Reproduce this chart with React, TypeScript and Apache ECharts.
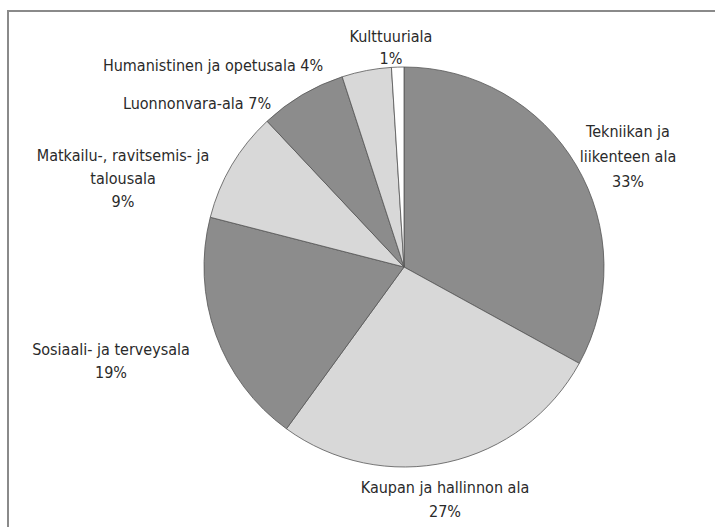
import React, { useEffect, useRef } from "react";
import * as echarts from "echarts";

const categories = [
  "Tekniikan ja\nliikenteen ala",
  "Kaupan ja hallinnon ala",
  "Sosiaali- ja terveysala",
  "Matkailu-, ravitsemis- ja\ntalousala",
  "Luonnonvara-ala",
  "Humanistinen ja opetusala",
  "Kulttuuriala",
];
const values = [33, 27, 19, 9, 7, 4, 1];
const inlineLabel = [false, false, false, false, true, true, false];

const sliceColors = ["#8c8c8c", "#d8d8d8", "#8c8c8c", "#d8d8d8", "#8c8c8c", "#d8d8d8", "#ffffff"];
// label block centres (px), alignment and line height
const labelPos: [number, number, string, number][] = [
  [628, 156, "center", 25],
  [445, 499, "center", 24],
  [111, 361, "center", 23],
  [123, 178, "center", 23],
  [197, 103, "center", 22],
  [213, 65, "center", 22],
  [391, 47, "center", 22],
];

const FONT = "'Liberation Sans Narrow', 'DejaVu Sans Condensed', 'Arial Narrow', sans-serif";

export default function App() {
  const ref = useRef<HTMLDivElement>(null);
  useEffect(() => {
    if (!ref.current) return;
    const chart = echarts.init(ref.current, undefined, { renderer: "svg" });
    chart.setOption({
      animation: false,
      backgroundColor: "#ffffff",
      graphic: [
        {
          type: "rect",
          shape: { x: 8, y: 11, width: 760, height: 560 },
          style: { fill: "none", stroke: "#8a8a8a", lineWidth: 2 },
          silent: true,
        },
      ],
      series: [
        {
          type: "pie",
          center: [404, 267],
          radius: 200,
          startAngle: 90,
          clockwise: true,
          avoidLabelOverlap: false,
          itemStyle: { borderColor: "#555", borderWidth: 0.8 },
          label: {
            show: true,
            position: "outside",
            fontFamily: FONT,
            fontSize: 16,
            color: "#2a2a2a",
            formatter: (p: any) =>
              inlineLabel[p.dataIndex] ? `${p.name} ${p.value}%` : `${p.name}\n${p.value}%`,
          },
          labelLine: { show: false },
          labelLayout: (p: any) => {
            const lp = labelPos[p.dataIndex];
            return { x: lp[0], y: lp[1], align: lp[2], verticalAlign: "middle" };
          },
          emphasis: { disabled: true },
          data: categories.map((name, i) => ({
            name,
            value: values[i],
            itemStyle: { color: sliceColors[i] },
            label: { lineHeight: labelPos[i][3] },
          })),
        },
      ],
    });
    return () => chart.dispose();
  }, []);
  return (
    <div
      ref={ref}
      style={{ position: "fixed", left: 0, top: 0, width: 715, height: 527 }}
    />
  );
}
